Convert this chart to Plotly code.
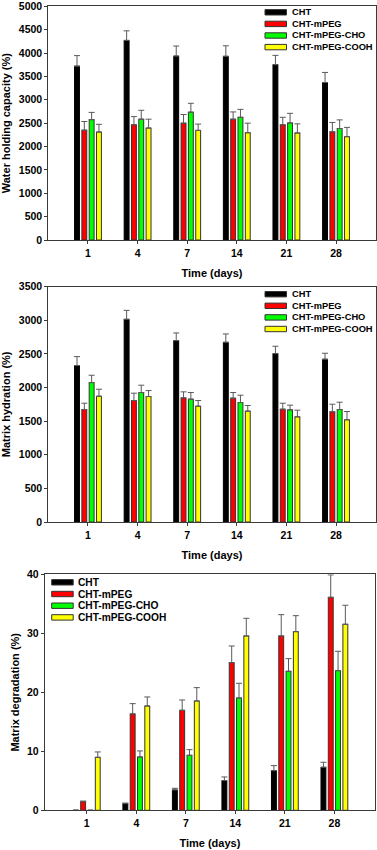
import plotly.graph_objects as go

# ---------------- data ----------------
days = ["1", "4", "7", "14", "21", "28"]
series_names = ["CHT", "CHT-mPEG", "CHT-mPEG-CHO", "CHT-mPEG-COOH"]
series_colors = ["#000000", "#FF0000", "#00FF00", "#FFFF00"]

# Water holding capacity (%)
whc_cht = [3720, 4270, 3935, 3930, 3750, 3370]
whc_cht_err = [225, 205, 215, 225, 200, 215]
whc_mpeg = [2350, 2465, 2500, 2585, 2465, 2315]
whc_mpeg_err = [185, 175, 185, 155, 160, 200]
whc_cho = [2575, 2585, 2735, 2625, 2505, 2385]
whc_cho_err = [155, 190, 190, 170, 205, 185]
whc_cooh = [2310, 2395, 2345, 2295, 2290, 2210]
whc_cooh_err = [165, 190, 135, 205, 195, 200]

# Matrix hydration (%)
mh_cht = [2327, 3015, 2698, 2673, 2505, 2421]
mh_cht_err = [133, 133, 114, 124, 109, 89]
mh_mpeg = [1673, 1807, 1846, 1842, 1678, 1639]
mh_mpeg_err = [94, 109, 90, 84, 89, 113]
mh_cho = [2074, 1926, 1827, 1777, 1668, 1673]
mh_cho_err = [109, 109, 99, 109, 70, 109]
mh_cooh = [1871, 1866, 1723, 1649, 1564, 1520]
mh_cooh_err = [104, 89, 84, 84, 99, 124]

# Matrix degradation (%)
md_cht = [0, 1.13, 3.45, 5.03, 6.72, 7.29]
md_cht_err = [None, 0.1, 0.28, 0.62, 0.85, 0.85]
md_mpeg = [1.47, 16.33, 16.95, 25.03, 29.55, 36.1]
md_mpeg_err = [0.1, 1.75, 1.75, 2.82, 3.61, 3.8]
md_cho = [0, 9.04, 9.32, 19.04, 23.56, 23.67]
md_cho_err = [None, 1.02, 0.96, 2.49, 2.15, 3.28]
md_cooh = [8.98, 17.68, 18.53, 29.55, 30.28, 31.53]
md_cooh_err = [0.91, 1.53, 2.26, 2.99, 2.71, 3.22]

y_titles = ["Water holding capacity (%)", "Matrix hydration (%)", "Matrix degradation (%)"]
x_title = "Time (days)"
y_max = [5000, 3500, 40]
y_dtick = [500, 500, 10]

# ---------------- layout helpers ----------------
W, H = 377, 850
FONT = "Liberation Sans, Arial, sans-serif"
FRAME = "#3a3a3a"

panels = [
    dict(vals=[whc_cht, whc_mpeg, whc_cho, whc_cooh],
         errs=[whc_cht_err, whc_mpeg_err, whc_cho_err, whc_cooh_err],
         top=6.3, bottom=240.0, left=48.3, right=375.7, xr=[-0.8, 5.8],
         leg_x=265.0, leg_text_x=290.5, leg_top=6.0, leg_gap=11.6, leg_font=9.3),
    dict(vals=[mh_cht, mh_mpeg, mh_cho, mh_cooh],
         errs=[mh_cht_err, mh_mpeg_err, mh_cho_err, mh_cooh_err],
         top=286.7, bottom=522.0, left=48.3, right=375.7, xr=[-0.8, 5.8],
         leg_x=265.0, leg_text_x=290.5, leg_top=7.5, leg_gap=11.6, leg_font=9.3),
    dict(vals=[md_cht, md_mpeg, md_cho, md_cooh],
         errs=[md_cht_err, md_mpeg_err, md_cho_err, md_cooh_err],
         top=574.3, bottom=810.3, left=44.7, right=375.0, xr=[-0.85, 5.82],
         leg_x=51.7, leg_text_x=77.0, leg_top=8.0, leg_gap=11.7, leg_font=10.2),
]

def px_x(p):
    return p / W

def px_y(p):
    return 1 - p / H

fig = go.Figure()
shapes = []
annotations = []

for k, pan in enumerate(panels):
    sfx = "" if k == 0 else str(k + 1)
    for i, name in enumerate(series_names):
        vals = pan["vals"][i]
        errs = pan["errs"][i]
        fig.add_trace(go.Bar(
            x=days, y=vals, name=name,
            xaxis="x" + sfx, yaxis="y" + sfx,
            showlegend=False,
            offsetgroup=str(i),
            marker=dict(color=series_colors[i],
                        line=dict(color="#333333" if i else "#000000", width=1)),
            error_y=dict(type="data", array=errs, symmetric=False,
                         arrayminus=[0 if e is not None else None for e in errs],
                         color="#5a5a5a", thickness=1, width=3),
        ))

    axis_common = dict(showline=True, linecolor=FRAME, linewidth=1, mirror=True,
                       ticks="outside", ticklen=3, tickcolor=FRAME, tickwidth=1,
                       showgrid=False, zeroline=False, automargin=False,
                       ticklabeloverflow="allow",
                       tickfont=dict(family=FONT, size=10.5, color="#000000", weight="bold"))
    fig.update_layout(**{
        "xaxis" + sfx: dict(axis_common, type="category", anchor="y" + sfx,
                            domain=[px_x(pan["left"]), px_x(pan["right"])],
                            range=pan["xr"],
                            title=dict(text=x_title, standoff=11,
                                       font=dict(family=FONT, size=11, color="#000000", weight="bold"))),
        "yaxis" + sfx: dict(axis_common, anchor="x" + sfx,
                            domain=[px_y(pan["bottom"]), px_y(pan["top"])],
                            range=[0, y_max[k]], dtick=y_dtick[k], tick0=0,
                            title=dict(text=y_titles[k], standoff=5,
                                       font=dict(family=FONT, size=11, color="#000000", weight="bold"))),
    })

    # custom legend (wide flat swatches as in the original)
    for i, name in enumerate(series_names):
        cy = pan["top"] + pan["leg_top"] + pan["leg_gap"] * i
        shapes.append(dict(type="rect", xref="paper", yref="paper",
                           x0=px_x(pan["leg_x"]), x1=px_x(pan["leg_x"] + 21.5),
                           y0=px_y(cy + 2.7), y1=px_y(cy - 2.7),
                           fillcolor=series_colors[i],
                           line=dict(color="#333333", width=1)))
        annotations.append(dict(xref="paper", yref="paper",
                                x=px_x(pan["leg_text_x"]), y=px_y(cy),
                                xanchor="left", yanchor="middle", showarrow=False,
                                text=name, borderpad=0,
                                font=dict(family=FONT, size=pan["leg_font"],
                                          color="#000000", weight="bold")))

fig.update_layout(
    width=W, height=H,
    margin=dict(l=0, r=0, t=0, b=0, autoexpand=False),
    paper_bgcolor="white", plot_bgcolor="white",
    barmode="group", bargap=0.41, bargroupgap=0.33,
    showlegend=False,
    shapes=shapes, annotations=annotations,
    font=dict(family=FONT, color="#000000"),
)

fig.write_html("out.html",
               config={"displayModeBar": False},
               post_script="document.body.style.margin='0';document.body.style.padding='0';")
